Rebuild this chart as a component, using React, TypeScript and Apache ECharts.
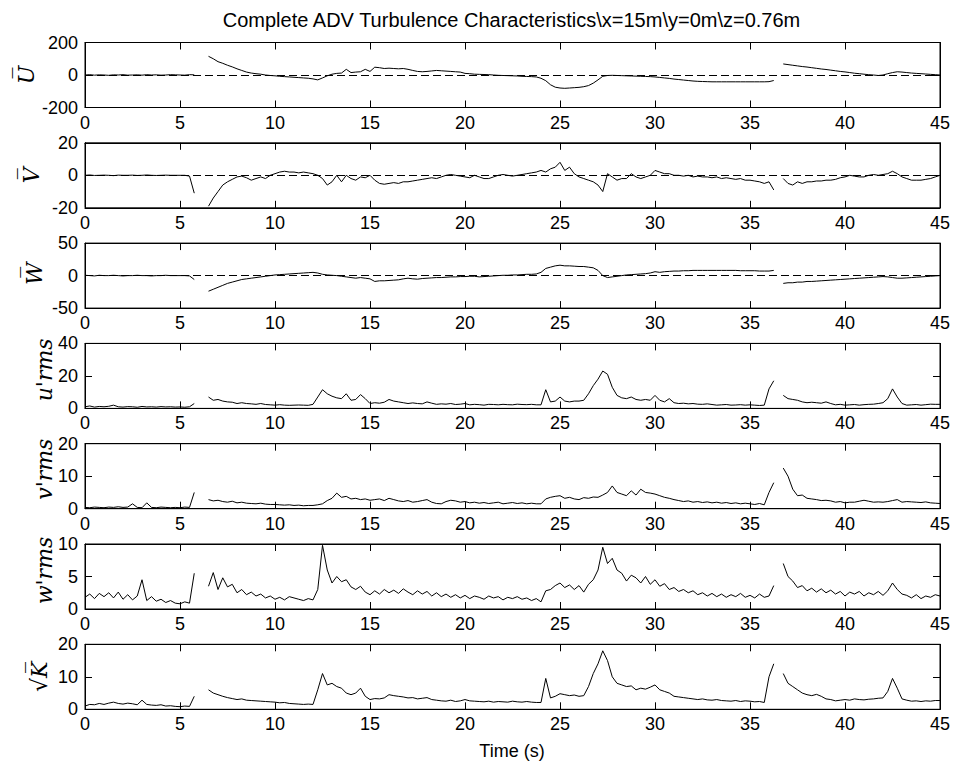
import React, { useEffect, useRef } from "react";
import * as echarts from "echarts";

// Sampling step of the time grid (s); every series below is read at t = 0, 0.25, ..., 45
const TIME_STEP = 0.25;

const TITLE = "Complete ADV Turbulence Characteristics\\x=15m\\y=0m\\z=0.76m";
const X_NAME = "Time (s)";
const PANEL_LABELS = ["U\u0305", "V\u0305", "W\u0305", "u'rms", "v'rms", "w'rms", "\u221AK\u0305"];
const Y_MIN = [-200, -20, -50, 0, 0, 0, 0];
const Y_MAX = [200, 20, 50, 40, 20, 10, 20];
const Y_STEP = [200, 20, 50, 20, 10, 5, 10];
const X_MIN = 0;
const X_MAX = 45;
const X_STEP = 5;

// Mean streamwise velocity U
const U_MEAN = [
  0, 2, -1, 1, 0, -2, 1, 0, 2, -1, 0, 1, -1, 2, 0, 1, -1, 0, 2, 1,
  0, -1, 2, 1, null, null, 115, 100, 82, 72, 60, 50, 38, 28, 18, 12, 8, 5, 0, -3,
  -5, -8, -10, -12, -14, -16, -18, -20, -24, -30, -18, -5, 5, 10, 12, 35, 15, 18, 20, 35,
  22, 48, 45, 40, 42, 40, 38, 40, 35, 28, 22, 20, 22, 25, 28, 26, 24, 22, 20, 18,
  10, 8, 5, 4, 3, 2, 0, -2, -3, -4, -5, -6, -8, -9, -10, -12, -20, -35, -60, -75,
  -80, -82, -80, -78, -76, -72, -65, -50, -30, -8, -3, -2, -3, -4, -5, -6, -7, -8, -9, -10,
  -12, -15, -18, -21, -25, -28, -31, -34, -37, -39, -40, -41, -42, -42, -42, -42, -42, -42, -42, -42,
  -42, -42, -42, -42, -41, -34, null, 68, 64, 60, 56, 52, 49, 45, 41, 37, 34, 30, 26, 22,
  19, 15, 11, 8, 5, 2, 0, -3, 0, 8, 15, 20, 18, 15, 12, 10, 8, 6, 4, 2,
  0,
];

// Mean lateral velocity V
const V_MEAN = [
  0, 0.2, -0.1, 0, 0.1, 0, -0.2, 0.1, 0, 0, 0.1, -0.1, 0, 0.2, 0, -0.1, 0, 0.1, 0, 0,
  0, 0, -0.5, -11, null, null, -19, -14, -10, -6, -4, -2.5, -1, -0.5, -1.5, -3, -2, -1, -2, 0,
  1, 2, 2.5, 2, 2, 1.5, 2, 1.5, 1, 0, -2, -6, -4, 0, -4, 0, -2, -3, -1, -1.5,
  0, -3, -5, -5.5, -5, -4.5, -5, -4, -4, -3.5, -3, -2.5, -2, -1.5, -2, -1, 0, 0.5, 0, -0.5,
  -1, -1.5, 0, -1, -2, -2, -1, 0, 0.5, 0, -0.5, 0, 0.5, 1, 1.5, 2, 3, 2, 4, 5,
  8, 3, 5, 1, -1, -2, -3, -4, -6, -10, 1, -1, -3, -2, -2, 1, -1, -2, -1, 0,
  3, 2, 1, 1, 0, 0, -0.5, 0, -1, -0.5, -1, -1, -1.5, -1, -2, -1.5, -2, -2.5, -2, -3,
  -3, -3.5, -4, -5, -4, -9, null, -2, -5, -6, -4, -5, -4, -4, -3.5, -3.5, -3, -3, -2.5, -1.5,
  -1, 0, -0.5, -1, -1, 0, 0.5, 0, 0.5, 1, 2.5, 1, -1, -2, -3, -3, -3, -2.5, -2, -1,
  0,
];

// Mean vertical velocity W
const W_MEAN = [
  0.5, 0, -0.5, 0.5, 0, 0, 0.5, 0, -0.5, 0, 0, 0.5, 0, 0, -0.5, 0, 0, 0.5, 0, 0,
  0, 0, -0.5, -6, null, null, -24, -21, -18, -15, -12, -10, -8, -6, -5, -4, -3, -2, -1, 0,
  1, 1.5, 2, 2.5, 3, 3.5, 4, 4.5, 5, 4, 2, 1, 0.5, 0, -1, -2, -3, -4, -3, -4,
  -5, -9, -8, -8, -7.5, -7, -6.5, -5, -4, -5, -5.5, -4.5, -4, -3.5, -3, -3, -2.5, -2, -2, -1.5,
  -1.5, -1, -1, -2, -1.5, -1, -0.5, 0, 0.5, 0.5, 1, 1, 1.5, 2, 2, 2.5, 5, 11, 13, 15,
  16, 15, 15, 14.5, 14, 14, 13, 12, 8, 0, -3, -2, -1, 0, 1, 1.5, 2, 2.5, 3, 4,
  6, 5, 6, 6.5, 7, 7, 7.5, 7.5, 8, 8, 8, 8, 8, 8, 8, 8, 8, 8, 7.5, 7.5,
  7.5, 7.5, 7, 7, 7, 8, null, -12, -11, -11, -10, -10, -9, -9, -8.5, -8, -7.5, -7, -6.5, -6,
  -5.5, -5, -4.5, -4, -3.5, -3, -2.5, -2, -1.5, -2, -3, -4, -4, -3.5, -3, -2.5, -2, -1.5, -1, -0.5,
  0,
];

// u' rms
const U_RMS = [
  1, 1.5, 0.8, 1.2, 1, 1.3, 2, 1, 0.8, 1.1, 1, 0.7, 1.2, 0.9, 1, 0.8, 1.1, 0.9, 1, 0.8,
  0.9, 0.7, 1, 3, null, null, 7, 5, 5.5, 4.5, 4, 3.8, 3, 3.5, 3, 2.8, 2.5, 3, 2.4, 2.2,
  2, 2.3, 2, 1.9, 2, 2.1, 2, 1.9, 2.5, 7, 11.5, 9, 7.5, 6.5, 6, 9, 5, 5.5, 8.5, 6,
  3, 3.5, 3.2, 3.8, 5.5, 4.5, 4, 3.5, 3, 3.4, 3, 2.8, 4, 3.2, 2.5, 2.8, 2.6, 3, 2.4, 2.6,
  3, 2.2, 2.5, 2.3, 2, 2.5, 2.4, 2.2, 2.5, 2.3, 2.2, 2.6, 2.4, 2.3, 2.5, 2.2, 2.2, 11.5, 4, 4.5,
  7, 4.5, 4, 4.5, 4.5, 5, 9, 14, 18, 23, 21, 13, 8, 6.5, 6, 7, 5.5, 5, 5.5, 5,
  8, 5, 4, 6, 3.5, 3, 3.2, 2.8, 3, 2.6, 2.5, 2.8, 2.4, 2, 2.2, 2.4, 2, 2.1, 2.3, 2,
  2.2, 2, 1.8, 2, 12, 17, null, 8, 6, 5.5, 5, 4, 3.5, 3.8, 3.5, 3.2, 4, 3, 2.2, 2.5,
  2, 2.2, 2.4, 2, 2.3, 2.5, 2.6, 3, 3.5, 6, 12, 7, 3, 2, 2.2, 2.4, 2, 2.3, 2.6, 2.5,
  2.5,
];

// v' rms
const V_RMS = [
  0.4, 0.3, 0.5, 0.4, 0.3, 0.5, 0.4, 0.6, 0.4, 0.5, 1.5, 0.4, 0.3, 1.8, 0.4, 0.3, 0.5, 0.4, 0.3, 0.4,
  0.3, 0.5, 0.4, 5, null, null, 2.8, 2.4, 2.6, 2.2, 2, 2.3, 1.8, 2, 1.7, 1.6, 1.5, 1.7, 1.4, 1.3,
  1.3, 1.2, 1.1, 1.2, 1, 1.1, 0.9, 1, 1, 1.2, 1.5, 2.5, 3.2, 4.8, 3.5, 3.8, 3, 3.2, 2.8, 3,
  2.6, 2.8, 3, 2.5, 3.2, 2.8, 2.4, 2.2, 2.5, 2, 2.2, 2.5, 2.8, 2, 1.6, 1.5, 2.2, 2.6, 2.4, 2,
  2.2, 1.8, 2, 1.7, 1.9, 1.6, 1.8, 2, 1.5, 1.7, 1.9, 1.6, 1.8, 1.5, 1.7, 1.5, 1.5, 3, 3.5, 3.8,
  4, 3.2, 3.5, 3, 2.8, 3.4, 3.2, 3.6, 3.5, 4.2, 5, 7, 5, 4.5, 4, 5.5, 4.2, 6, 5, 4.8,
  4.5, 4, 3.5, 3.2, 2.8, 2.5, 2.2, 2.4, 2, 2.2, 1.9, 2.1, 1.8, 2, 1.7, 1.9, 1.6, 1.8, 1.5, 1.7,
  1.5, 1.3, 1.6, 1.2, 5, 8, null, 12.5, 10, 6, 4, 4.2, 3.2, 3, 2.8, 2.5, 2.6, 2.4, 2, 2.2,
  1.8, 2, 2, 2.3, 2.6, 2.3, 2, 2.1, 2, 2.2, 2.5, 2.8, 2, 2.2, 2.1, 2, 1.9, 2.1, 1.8, 1.7,
  1.6,
];

// w' rms
const W_RMS = [
  1.8, 2.3, 1.6, 2.4, 1.9, 2.5, 1.7, 2.6, 1.5, 2.2, 1.4, 2, 4.5, 1.3, 1.9, 1.2, 1.5, 1, 1.3, 0.9,
  0.8, 1.1, 0.9, 5.5, null, null, 3.5, 5.6, 3, 4.8, 3.4, 3.8, 2.5, 3, 2.2, 2.6, 2, 2.3, 1.7, 2,
  1.5, 1.8, 1.4, 1.9, 1.7, 1.5, 1.3, 1.6, 1.4, 3, 9.8, 6, 4, 5, 4.2, 4.5, 3.4, 3, 3.5, 2.6,
  2.2, 2.8, 2.3, 3, 2.5, 2.9, 2.4, 3.1, 2.6, 2.2, 2.8, 2.3, 2.7, 2, 2.5, 1.9, 2.3, 1.8, 2.2, 1.7,
  2.1, 1.6, 2, 1.8, 1.5, 2, 1.7, 1.9, 1.4, 1.8, 1.6, 1.9, 1.5, 1.7, 1.3, 1.6, 1.1, 2.8, 3, 3.6,
  4, 3.3, 3.7, 3, 3.6, 2.6, 3.8, 4.5, 6, 9.5, 7, 7.8, 6, 5.5, 4.3, 5.2, 4.8, 4, 5, 3.8,
  4.5, 3.5, 3.9, 3, 3.3, 2.7, 3, 2.5, 2.8, 2.2, 2.5, 2, 2.4, 1.9, 2.3, 1.8, 2.2, 1.9, 2.4, 1.8,
  2.1, 1.7, 2.3, 1.8, 2, 3.6, null, 7, 5, 4.3, 3.3, 3.6, 2.8, 3.2, 2.6, 3.1, 2.5, 2.9, 2.3, 2.7,
  2, 2.6, 2.3, 2.7, 2, 2.5, 2.2, 2.7, 2.1, 2.8, 4, 3, 2.3, 2.1, 1.7, 2.2, 1.6, 2, 1.8, 2.2,
  2,
];

// sqrt(K)
const SQRT_K = [
  1, 1.5, 1.4, 1.8, 1.5, 1.9, 2.2, 1.8, 1.6, 1.9, 1.7, 1.4, 2.8, 1.5, 1.3, 1.2, 1.4, 1, 1.1, 0.9,
  0.8, 1, 0.9, 4, null, null, 6, 5, 4.5, 4, 3.6, 3.3, 3, 3.2, 2.8, 2.7, 2.6, 2.5, 2.4, 2.3,
  2.2, 2, 2.1, 1.8, 1.7, 1.6, 1.5, 1.6, 1.5, 6, 11, 7.5, 8, 7, 6.5, 5, 4.5, 5, 6.5, 4,
  3, 3.3, 3.2, 3.5, 4.5, 4.2, 4, 3.8, 3.5, 3.6, 3.2, 3.4, 3.6, 3, 2.8, 2.6, 2.5, 2.8, 2.4, 2.6,
  3, 2.6, 2.5, 2.4, 2.3, 2.5, 2.2, 2.4, 2.3, 2.2, 2.5, 2.3, 2.2, 2.4, 2.2, 2.1, 2.1, 9.5, 3.5, 4,
  4.8, 4.5, 4.2, 4.4, 4, 4.2, 7, 11, 14, 18, 15, 10, 8, 7.5, 7, 7.2, 6, 6.5, 6.2, 6.8,
  7.5, 6, 5.5, 5, 4, 3.8, 3.6, 3.4, 3.2, 3, 3.2, 2.9, 2.8, 3, 2.7, 2.6, 2.5, 2.7, 2.4, 2.6,
  2.5, 2.3, 2.4, 2.1, 10, 14, null, 11, 8, 7, 6, 5, 4.5, 4.2, 4.6, 4, 3.2, 3, 2.6, 2.8,
  3, 2.8, 3.2, 3, 2.9, 3.1, 3.2, 3.4, 3.5, 5.5, 9.5, 6.5, 3.2, 2.8, 2.5, 2.6, 2.4, 2.6, 2.5, 2.7,
  2.7,
];

const SERIES_VALUES = [U_MEAN, V_MEAN, W_MEAN, U_RMS, V_RMS, W_RMS, SQRT_K];
const HAS_ZERO_LINE = [true, true, true, false, false, false, false];

const FONT_SANS = '"Liberation Sans", Arial, Helvetica, sans-serif';
const FONT_SERIF = '"DejaVu Serif", "Liberation Serif", serif';

const GRID_LEFT = 85;
const GRID_WIDTH = 855;
const GRID_TOP0 = 42.5;
const GRID_PITCH = 100.3;
const GRID_HEIGHT = 65;
const LABEL_X = [26, 31, 34, 44, 44, 44, 39];
const LABEL_DY = [0, 0, -2, -6, -7, -6, 0];

function buildOption(): any {
  const grids: any[] = [];
  const xAxes: any[] = [];
  const yAxes: any[] = [];
  const series: any[] = [];
  const graphics: any[] = [];

  const tickStyle = { color: "#000", width: 1 };
  const labelStyle = { color: "#000", fontSize: 18, fontFamily: FONT_SANS };

  SERIES_VALUES.forEach((vals, k) => {
    const top = GRID_TOP0 + GRID_PITCH * k;
    grids.push({
      left: GRID_LEFT,
      width: GRID_WIDTH,
      top,
      height: GRID_HEIGHT,
      show: true,
      borderColor: "#000",
      borderWidth: 1,
      backgroundColor: "#fff",
      containLabel: false,
    });
    const xCommon = {
      type: "value",
      gridIndex: k,
      min: X_MIN,
      max: X_MAX,
      interval: X_STEP,
      splitLine: { show: false },
      axisLine: { show: true, onZero: false, lineStyle: tickStyle },
      axisTick: { show: true, inside: true, length: 7, lineStyle: tickStyle },
    };
    xAxes.push({
      ...xCommon,
      position: "bottom",
      axisLabel: { ...labelStyle, margin: 6, showMinLabel: true, showMaxLabel: true },
    });
    xAxes.push({ ...xCommon, position: "top", axisLabel: { show: false } });

    const yCommon = {
      type: "value",
      gridIndex: k,
      min: Y_MIN[k],
      max: Y_MAX[k],
      interval: Y_STEP[k],
      splitLine: { show: false },
      axisLine: { show: true, onZero: false, lineStyle: tickStyle },
      axisTick: { show: true, inside: true, length: 7, lineStyle: tickStyle },
    };
    yAxes.push({
      ...yCommon,
      position: "left",
      axisLabel: { ...labelStyle, margin: 7, showMinLabel: true, showMaxLabel: true },
    });
    yAxes.push({ ...yCommon, position: "right", axisLabel: { show: false } });

    const data = vals.map((v, i) => [i * TIME_STEP, v === null ? "-" : v]);
    const s: any = {
      type: "line",
      xAxisIndex: 2 * k,
      yAxisIndex: 2 * k,
      data,
      showSymbol: false,
      symbol: "none",
      connectNulls: false,
      silent: true,
      lineStyle: { color: "#000", width: 1 },
      z: 3,
    };
    if (HAS_ZERO_LINE[k]) {
      s.markLine = {
        symbol: "none",
        silent: true,
        label: { show: false },
        lineStyle: { color: "#000", type: [8, 4], width: 1 },
        data: [{ yAxis: 0 }],
      };
    }
    series.push(s);

    graphics.push({
      type: "text",
      x: LABEL_X[k],
      y: top + GRID_HEIGHT / 2 + LABEL_DY[k],
      rotation: Math.PI / 2,
      style: {
        text: PANEL_LABELS[k],
        fontSize: 22,
        fontStyle: "italic",
        fontFamily: FONT_SERIF,
        fill: "#000",
        textAlign: "center",
        textVerticalAlign: "middle",
      },
    });
  });

  graphics.push({
    type: "text",
    x: 511.5,
    y: 20,
    style: {
      text: TITLE,
      fontSize: 20,
      fontFamily: FONT_SANS,
      fill: "#000",
      textAlign: "center",
      textVerticalAlign: "middle",
    },
  });
  graphics.push({
    type: "text",
    x: 512,
    y: 751,
    style: {
      text: X_NAME,
      fontSize: 18,
      fontFamily: FONT_SANS,
      fill: "#000",
      textAlign: "center",
      textVerticalAlign: "middle",
    },
  });

  return {
    animation: false,
    backgroundColor: "#fff",
    grid: grids,
    xAxis: xAxes,
    yAxis: yAxes,
    series,
    graphic: graphics,
  };
}

export default function App() {
  const ref = useRef<HTMLDivElement>(null);
  useEffect(() => {
    document.body.style.margin = "0";
    if (!ref.current) return;
    const chart = echarts.init(ref.current, undefined, { renderer: "svg" });
    chart.setOption(buildOption());
    return () => chart.dispose();
  }, []);
  return <div ref={ref} style={{ width: 954, height: 763, background: "#fff" }} />;
}
